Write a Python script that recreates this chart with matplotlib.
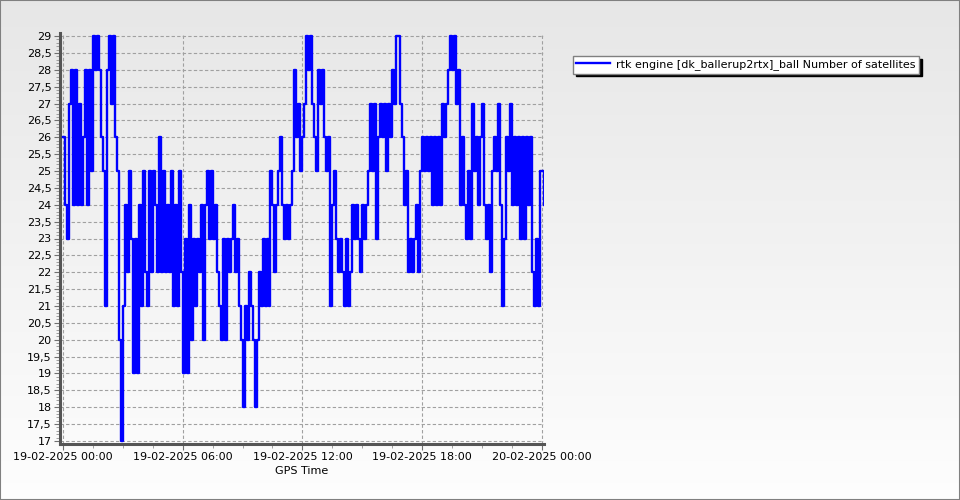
import matplotlib
matplotlib.use("Agg")
import matplotlib.pyplot as plt
import matplotlib.dates as mdates
from matplotlib.ticker import MultipleLocator, FuncFormatter, FixedLocator
import numpy as np
import pandas as pd

# number of satellites, one sample every 6 minutes from 19-02-2025 00:00
sats_00_06 = [
    26, 24, 23, 27, 28, 24, 28, 24, 27, 24,
    26, 28, 24, 28, 25, 29, 28, 29, 28, 26,
    25, 21, 28, 29, 27, 29, 26, 25, 20, 17,
    21, 24, 22, 25, 23, 19, 23, 19, 24, 21,
    25, 22, 21, 25, 22, 25, 24, 22, 26, 22,
    25, 22, 24, 22, 25, 21, 24, 21, 25, 22,
]
sats_06_12 = [
    19, 23, 19, 24, 20, 23, 21, 23, 22, 24,
    20, 24, 25, 23, 25, 23, 24, 22, 21, 20,
    23, 20, 23, 22, 23, 24, 22, 23, 21, 20,
    18, 21, 20, 22, 21, 20, 18, 20, 22, 21,
    23, 21, 23, 21, 25, 24, 22, 24, 25, 26,
    24, 23, 24, 23, 24, 25, 28, 26, 27, 25,
]
sats_12_18 = [
    26, 27, 29, 28, 29, 27, 26, 25, 28, 27,
    28, 26, 25, 26, 21, 24, 25, 23, 22, 23,
    22, 21, 23, 21, 22, 24, 23, 24, 23, 22,
    24, 23, 24, 25, 27, 25, 27, 23, 26, 27,
    26, 27, 25, 27, 26, 28, 27, 29, 29, 27,
    26, 24, 25, 22, 23, 22, 23, 24, 22, 25,
]
sats_18_24 = [
    26, 25, 26, 25, 26, 24, 26, 24, 26, 24,
    27, 26, 27, 28, 29, 28, 29, 27, 28, 24,
    26, 24, 23, 25, 23, 27, 25, 26, 24, 26,
    27, 24, 23, 24, 22, 25, 26, 25, 27, 24,
    21, 23, 26, 25, 27, 24, 26, 24, 26, 23,
    26, 23, 26, 24, 26, 22, 21, 23, 21, 25,
    25, 24,
]
sats = sats_00_06 + sats_06_12 + sats_12_18 + sats_18_24
start = "2025-02-19 00:00"
step_minutes = 6

series_label = "rtk engine [dk_ballerup2rtx]_ball Number of satellites"

times = pd.date_range(start, periods=len(sats), freq=f"{step_minutes}min")

fig = plt.figure(figsize=(9.6, 5), dpi=100)

# background gradient
bg = fig.add_axes([0, 0, 1, 1], zorder=-10)
grad = np.linspace(0.905, 0.995, 256).reshape(-1, 1)
bg.imshow(np.dstack([grad, grad, grad]), aspect="auto", extent=(0, 1, 0, 1), origin="upper")
bg.set_xlim(0, 1); bg.set_ylim(0, 1)
bg.axis("off")
fig.patches.append(plt.Rectangle((0, 0), 1, 1, transform=fig.transFigure, fill=False,
                                 edgecolor="#808080", lw=1.5, zorder=100))

ax = fig.add_axes([0.0625, 0.112, 0.504, 0.822])
ax.set_facecolor("none")

ax.step(times, sats, where="post", color="#0000ff", lw=1.7, label=series_label, zorder=3)

t0 = pd.Timestamp(start)
ax.set_xlim(t0 - pd.Timedelta(minutes=9), t0 + pd.Timedelta(hours=24, minutes=6))
ax.set_ylim(16.91, 29.09)

ax.xaxis.set_major_locator(mdates.HourLocator(byhour=[0, 6, 12, 18]))
minor_times = pd.date_range(t0 - pd.Timedelta(hours=6), periods=25, freq="90min")
ax.xaxis.set_minor_locator(FixedLocator(mdates.date2num(minor_times)))
ax.xaxis.set_major_formatter(mdates.DateFormatter("%d-%m-%Y %H:%M"))
ax.yaxis.set_major_locator(MultipleLocator(0.5))
ax.yaxis.set_minor_locator(MultipleLocator(0.1))
ax.yaxis.set_major_formatter(FuncFormatter(lambda v, p: f"{v:g}".replace(".", ",")))

ax.grid(True, which="major", color="#a0a0a0", ls=(0, (3, 2)), lw=0.8)
ax.tick_params(which="major", labelsize=8, length=4, color="#707070", pad=2)
ax.tick_params(which="minor", length=3, color="#909090")
for s in ("top", "right"):
    ax.spines[s].set_visible(False)
for s in ("left", "bottom"):
    ax.spines[s].set_color("#555555")
    ax.spines[s].set_linewidth(2.2)

ax.set_xlabel("GPS Time", fontsize=8, labelpad=3)

leg = ax.legend(loc="upper left", bbox_to_anchor=(0.597, 0.888), bbox_transform=fig.transFigure,
                fontsize=8, frameon=True, fancybox=False, handlelength=3.0, borderpad=0.3,
                handletextpad=0.6, borderaxespad=0, shadow={"color": "black", "alpha": 1})
leg.get_frame().set_edgecolor("#808080")
leg.get_frame().set_facecolor("white")
leg.get_frame().set_linewidth(1)

fig.savefig("out.png", dpi=100)
